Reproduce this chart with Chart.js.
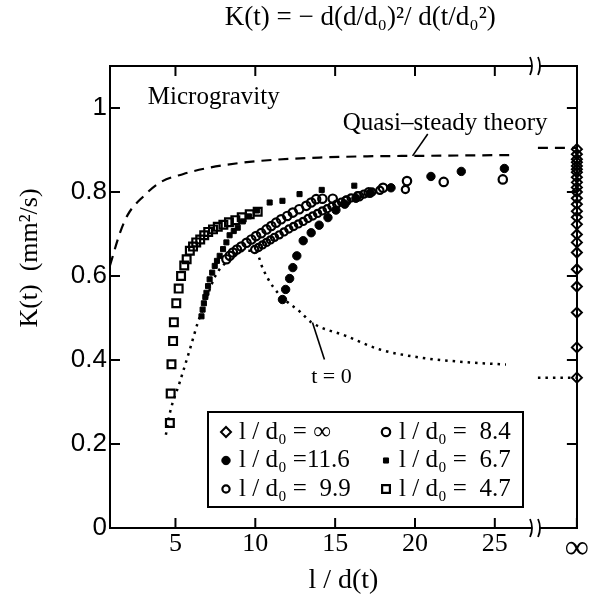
<!DOCTYPE html>
<html>
<head>
<meta charset="utf-8">
<script src="https://cdn.jsdelivr.net/npm/chart.js@4/dist/chart.umd.min.js"></script>
<style>
  html, body { margin: 0; padding: 0; background: #fff; }
  canvas { display: block; }
</style>
</head>
<body>
<canvas id="myChart" width="590" height="598"></canvas>
<script>
// x value where the "infinity" column sits (right frame), and the axis break
var INF = 30.14;
var X_MIN = 0.9;
var BREAK_AT = 27.55;

var xTicks = [5, 10, 15, 20, 25];
var yTicks = [0, 0.2, 0.4, 0.6, 0.8, 1];

// l/d0 = infinity (all at x = INF)
var infY = [0.902, 0.890, 0.878, 0.871, 0.862, 0.854, 0.847, 0.835, 0.823, 0.811, 0.800, 0.785,
  0.771, 0.754, 0.740, 0.723, 0.699, 0.680, 0.656, 0.616, 0.575, 0.513, 0.430, 0.358];

// l/d0 = 11.6 (filled circles)
var s116X = [11.7, 11.9, 12.15, 12.35, 12.6, 13.0, 13.5, 14.0, 14.55, 15.05, 15.6, 16.3, 17.2, 18.5, 21.0, 22.9, 25.6];
var s116Y = [0.544, 0.568, 0.594, 0.620, 0.648, 0.684, 0.703, 0.721, 0.739, 0.757, 0.771, 0.785, 0.797, 0.810, 0.837, 0.849, 0.856];

// l/d0 = 9.9 (small open circles)
var s99X = [9.96, 10.2, 10.45, 10.7, 10.95, 11.2, 11.5, 11.8, 12.1, 12.4, 12.7, 13.0, 13.3, 13.6, 13.9,
  14.2, 14.5, 14.8, 15.1, 15.4, 15.7, 16.0, 16.4, 16.8, 17.3, 17.8, 19.4];
var s99Y = [0.663, 0.668, 0.674, 0.680, 0.686, 0.692, 0.698, 0.705, 0.712, 0.718, 0.724, 0.730, 0.737, 0.743, 0.749,
  0.755, 0.760, 0.766, 0.771, 0.776, 0.781, 0.786, 0.791, 0.795, 0.800, 0.804, 0.806];

// l/d0 = 8.4 (open circles)
var s84X = [8.19, 8.4, 8.6, 8.85, 9.12, 9.45, 9.75, 10.05, 10.37, 10.7, 11.0, 11.3, 11.62, 12.0, 12.35, 12.75,
  13.19, 13.5, 13.81, 14.2, 14.85, 15.7, 16.5, 17.1, 18.0, 19.5, 21.8, 25.5];
var s84Y = [0.640, 0.648, 0.656, 0.663, 0.670, 0.679, 0.687, 0.695, 0.702, 0.711, 0.719, 0.727, 0.735, 0.743, 0.751, 0.759,
  0.767, 0.775, 0.783, 0.784, 0.784, 0.779, 0.790, 0.799, 0.810, 0.826, 0.824, 0.830];

// l/d0 = 6.7 (small filled squares)
var s67X = [6.63, 6.7, 6.78, 6.87, 6.94, 7.04, 7.14, 7.3, 7.46, 7.6, 7.77, 7.98, 8.19, 8.39, 8.65, 8.9, 9.22, 9.6,
  10.1, 10.9, 11.7, 12.77, 14.16, 16.2];
var s67Y = [0.504, 0.520, 0.535, 0.550, 0.560, 0.576, 0.592, 0.608, 0.624, 0.636, 0.648, 0.664, 0.680, 0.697, 0.707, 0.715, 0.730, 0.742,
  0.756, 0.775, 0.779, 0.795, 0.805, 0.815];

// l/d0 = 4.7 (open squares)
var s47X = [4.65, 4.7, 4.75, 4.85, 4.9, 5.05, 5.2, 5.35, 5.55, 5.7, 5.9, 6.1, 6.3, 6.55, 6.8, 7.05, 7.35,
  7.65, 8.0, 8.35, 8.75, 9.15, 9.65, 10.15];
var s47Y = [0.250, 0.320, 0.390, 0.445, 0.490, 0.535, 0.570, 0.600, 0.625, 0.640, 0.660, 0.670, 0.680, 0.687, 0.697, 0.705, 0.711,
  0.717, 0.722, 0.728, 0.733, 0.740, 0.747, 0.753];

// quasi-steady theory (dashed)
var quasiX = [0.9, 1.5, 2, 3, 4, 5.5, 7, 9, 11.3, 14, 17, 20, 23, 25.9];
var quasiY = [0.625, 0.700, 0.745, 0.790, 0.822, 0.843, 0.857, 0.869, 0.877, 0.882, 0.885, 0.886, 0.887, 0.888];
var quasiInfX = [27.7, INF];
var quasiInfY = [0.905, 0.905];

// t = 0 (dotted)
var t0X = [4.4, 4.65, 5.25, 5.9, 6.4, 6.7, 7.5, 8.4, 9.3, 10.0, 10.5, 11.1, 11.8, 12.8, 13.5, 15.7, 17.8, 20.3, 22.8, 25.7];
var t0Y = [0.222, 0.274, 0.345, 0.425, 0.489, 0.520, 0.600, 0.640, 0.660, 0.660, 0.615, 0.575, 0.545, 0.515, 0.490, 0.457, 0.425, 0.406, 0.396, 0.389];
var t0InfX = [27.7, INF];
var t0InfY = [0.358, 0.358];

function pts(xs, ys) {
  return xs.map(function (x, i) { return {x: x, y: ys[i]}; });
}

var SERIF = '"Liberation Serif", "DejaVu Serif", serif';
var SANS = '"Liberation Sans", Arial, sans-serif';
var OPEN = 'rgba(0,0,0,0)';

var datasets = [
  {label: 'l / d₀ = ∞', data: infY.map(function (y) { return {x: INF, y: y}; }),
    pointStyle: 'rectRot', pointRadius: 5, pointBorderWidth: 2, pointBackgroundColor: OPEN, clip: false},
  {label: 'l / d₀ =11.6', data: pts(s116X, s116Y),
    pointStyle: 'circle', pointRadius: 4.2, pointBorderWidth: 1, pointBackgroundColor: '#000'},
  {label: 'l / d₀ =  9.9', data: pts(s99X, s99Y),
    pointStyle: 'circle', pointRadius: 3.6, pointBorderWidth: 2.2, pointBackgroundColor: OPEN},
  {label: 'l / d₀ =  8.4', data: pts(s84X, s84Y),
    pointStyle: 'circle', pointRadius: 4.2, pointBorderWidth: 2.2, pointBackgroundColor: OPEN},
  {label: 'l / d₀ =  6.7', data: pts(s67X, s67Y),
    pointStyle: 'rect', pointRadius: 3.6, pointBorderWidth: 1, pointBackgroundColor: '#000'},
  {label: 'l / d₀ =  4.7', data: pts(s47X, s47Y),
    pointStyle: 'rect', pointRadius: 5.5, pointBorderWidth: 2.2, pointBackgroundColor: OPEN},
  {label: 'quasi', data: pts(quasiX, quasiY), showLine: true, pointRadius: 0,
    borderDash: [10, 7], borderWidth: 2.2, cubicInterpolationMode: 'monotone'},
  {label: 'quasiInf', data: pts(quasiInfX, quasiInfY), showLine: true, pointRadius: 0,
    borderDash: [10, 7], borderWidth: 2.2, clip: false},
  {label: 't0', data: pts(t0X, t0Y), showLine: true, pointRadius: 0,
    borderDash: [2.5, 5], borderWidth: 2.5, cubicInterpolationMode: 'monotone'},
  {label: 't0Inf', data: pts(t0InfX, t0InfY), showLine: true, pointRadius: 0,
    borderDash: [2.5, 5], borderWidth: 2.5, clip: false}
];
datasets.forEach(function (d) {
  d.borderColor = '#000';
  d.pointBorderColor = '#000';
  d.backgroundColor = '#000';
});

// legend: left column then right column
var legendOrder = [0, 1, 2, 3, 4, 5];

// text notes in data units
var notes = [
  {text: 'Microgravity', x: 3.27, y: 1.024, size: 25},
  {text: 'Quasi–steady theory', x: 15.47, y: 0.964, size: 25},
  {text: 't = 0', x: 13.5, y: 0.36, size: 22}
];
var leaders = [
  {x1: 20.8, y1: 0.938, x2: 19.85, y2: 0.886},
  {x1: 14.33, y1: 0.401, x2: 13.58, y2: 0.489}
];

var notesPlugin = {
  id: 'notes',
  afterDatasetsDraw: function (chart) {
    var ctx = chart.ctx, xs = chart.scales.x, ys = chart.scales.y;
    ctx.save();
    ctx.fillStyle = '#000';
    ctx.textBaseline = 'middle';
    ctx.textAlign = 'left';
    notes.forEach(function (n) {
      ctx.font = n.size + 'px ' + SERIF;
      ctx.fillText(n.text, xs.getPixelForValue(n.x), ys.getPixelForValue(n.y));
    });
    ctx.strokeStyle = '#000';
    ctx.lineWidth = 1.6;
    leaders.forEach(function (l) {
      ctx.beginPath();
      ctx.moveTo(xs.getPixelForValue(l.x1), ys.getPixelForValue(l.y1));
      ctx.lineTo(xs.getPixelForValue(l.x2), ys.getPixelForValue(l.y2));
      ctx.stroke();
    });
    ctx.restore();
  }
};

// tick marks pointing into the plot on all four sides
var TICK_LEN = 10;
var ticksPlugin = {
  id: 'inTicks',
  afterDraw: function (chart) {
    var ctx = chart.ctx, a = chart.chartArea, s = chart.scales;
    ctx.save();
    ctx.strokeStyle = '#000';
    ctx.lineWidth = 2;
    function seg(x1, y1, x2, y2) {
      ctx.beginPath(); ctx.moveTo(x1, y1); ctx.lineTo(x2, y2); ctx.stroke();
    }
    s.x.ticks.forEach(function (t) { var p = s.x.getPixelForValue(t.value); seg(p, a.bottom, p, a.bottom - TICK_LEN); });
    s.x2.ticks.forEach(function (t) { var p = s.x2.getPixelForValue(t.value); seg(p, a.top, p, a.top + TICK_LEN); });
    s.y.ticks.forEach(function (t) { var p = s.y.getPixelForValue(t.value); seg(a.left, p, a.left + TICK_LEN, p); });
    s.y2.ticks.forEach(function (t) { var p = s.y2.getPixelForValue(t.value); seg(a.right, p, a.right - TICK_LEN, p); });
    ctx.restore();
  }
};

var breakPlugin = {
  id: 'axisBreak',
  afterDraw: function (chart) {
    var ctx = chart.ctx, a = chart.chartArea;
    var px = chart.scales.x.getPixelForValue(BREAK_AT);
    ctx.save();
    [a.top, a.bottom].forEach(function (y) {
      ctx.fillStyle = '#fff';
      ctx.fillRect(px - 3.5, y - 3, 7, 6);
      ctx.strokeStyle = '#000';
      ctx.lineWidth = 1.8;
      [-4, 4].forEach(function (dx) {
        ctx.beginPath();
        ctx.moveTo(px + dx - 1.5, y - 9);
        ctx.quadraticCurveTo(px + dx + 2.5, y, px + dx - 1.5, y + 9);
        ctx.stroke();
      });
    });
    ctx.restore();
  }
};

var legendPlugin = {
  id: 'boxLegend',
  afterDraw: function (chart) {
    var ctx = chart.ctx, a = chart.chartArea;
    var left = a.left + 98, top = a.top + 346, w = 315, h = 95;
    ctx.save();
    ctx.fillStyle = '#fff';
    ctx.fillRect(left, top, w, h);
    ctx.lineWidth = 2;
    ctx.strokeStyle = '#000';
    ctx.strokeRect(left, top, w, h);
    ctx.font = '25px ' + SERIF;
    ctx.textBaseline = 'middle';
    legendOrder.forEach(function (idx, i) {
      var ds = chart.data.datasets[idx];
      var col = Math.floor(i / 3), row = i % 3;
      var mx = left + 18 + col * 160, my = top + 20 + row * 28.5;
      ctx.fillStyle = ds.pointBackgroundColor === OPEN ? '#fff' : '#000';
      ctx.strokeStyle = '#000';
      ctx.lineWidth = ds.pointBorderWidth;
      Chart.helpers.drawPoint(ctx, {pointStyle: ds.pointStyle, radius: ds.pointRadius,
        borderWidth: ds.pointBorderWidth, rotation: 0}, mx, my);
      ctx.fillStyle = '#000';
      ctx.fillText(ds.label, mx + 13, my);
    });
    ctx.restore();
  }
};

function frame(extra) {
  var o = {
    border: {display: true, color: '#000', width: 2},
    grid: {display: false, drawOnChartArea: false, drawTicks: false}
  };
  for (var k in extra) o[k] = extra[k];
  return o;
}

var ctx = document.getElementById('myChart');
var chart = new Chart(ctx, {
  type: 'scatter',
  data: {datasets: datasets},
  options: {
    responsive: false,
    animation: false,
    layout: {padding: 0},
    plugins: {legend: {display: false}, tooltip: {enabled: false}},
    scales: {
      x: frame({
        type: 'linear', position: 'bottom', min: X_MIN, max: INF,
        afterBuildTicks: function (s) { s.ticks = xTicks.concat([INF]).map(function (v) { return {value: v}; }); },
        afterFit: function (s) { s.height = 70; },
        ticks: {
          color: '#000', padding: 1, maxRotation: 0, autoSkip: false,
          font: function (c) { return {family: SERIF, size: (c.tick && c.tick.value === INF) ? 34 : 26}; },
          callback: function (v) { return v === INF ? '∞' : String(v); }
        },
        title: {display: true, text: 'l / d(t)', color: '#000', font: {family: SERIF, size: 28}, padding: {top: 0, bottom: 1}}
      }),
      x2: frame({
        type: 'linear', position: 'top', min: X_MIN, max: INF,
        afterBuildTicks: function (s) { s.ticks = xTicks.map(function (v) { return {value: v}; }); },
        afterFit: function (s) { s.height = 66; },
        ticks: {display: false},
        title: {display: true, text: '\u00a0'.repeat(5) + 'K(t) = − d(d/d₀)²/ d(t/d₀²)', color: '#000',
          font: {family: SERIF, size: 27}, padding: {top: 2, bottom: 0}}
      }),
      y: frame({
        type: 'linear', position: 'left', min: 0, max: 1.1,
        afterBuildTicks: function (s) { s.ticks = yTicks.map(function (v) { return {value: v}; }); },
        afterFit: function (s) { s.width = 110; },
        ticks: {color: '#000', padding: 3, font: {family: SANS, size: 26},
          callback: function (v) { return String(v); }},
        title: {display: true, text: '\u00a0'.repeat(12) + 'K(t)  (mm²/s)', color: '#000',
          font: {family: SERIF, size: 26}, padding: {top: 15, bottom: 0}}
      }),
      y2: frame({
        type: 'linear', position: 'right', min: 0, max: 1.1,
        afterBuildTicks: function (s) { s.ticks = yTicks.map(function (v) { return {value: v}; }); },
        afterFit: function (s) { s.width = 12; },
        ticks: {display: false}
      })
    }
  },
  plugins: [notesPlugin, ticksPlugin, legendPlugin, breakPlugin]
});
</script>
</body>
</html>
